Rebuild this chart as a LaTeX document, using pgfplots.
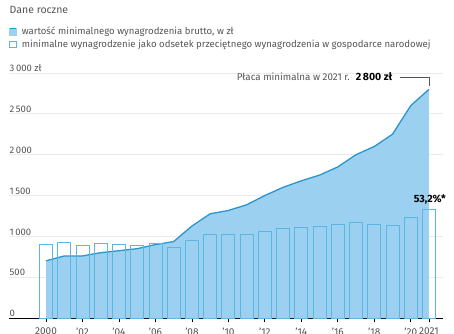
\documentclass[border=0pt]{standalone}
\usepackage{pgfplots}
\pgfplotsset{compat=1.18}
\usepackage{pgfplotstable}
\usepackage{fontspec}
\setmainfont{Fira Sans}
\definecolor{areafill}{HTML}{9CD0F0}
\definecolor{linecol}{HTML}{2A96CC}
\definecolor{barcol}{HTML}{5BB6E3}
\definecolor{txtgray}{HTML}{555555}
\definecolor{gridgray}{HTML}{EBEBEB}
\pgfplotstableread{
year wage
2000 700
2001 760
2002 760
2003 800
2004 824
2005 849
2006 899
2007 936
2008 1126
2009 1276
2010 1317
2011 1386
2012 1500
2013 1600
2014 1680
2015 1750
2016 1850
2017 2000
2018 2100
2019 2250
2020 2600
2021 2800
}\wagetable
\pgfplotstableread{
year pct
2000 36.1
2001 36.9
2002 35.6
2003 36.4
2004 35.9
2005 35.8
2006 36.4
2007 34.8
2008 38.2
2009 41.0
2010 40.8
2011 40.8
2012 42.6
2013 43.8
2014 44.2
2015 44.9
2016 45.7
2017 46.7
2018 45.7
2019 45.4
2020 49.5
2021 53.2
}\pcttable
\begin{document}
\begin{tikzpicture}
\begin{axis}[
  at={(9pt,15pt)}, anchor=south west,
  scale only axis, width=434pt, height=245pt,
  xmin=1997.97, xmax=2021.77, ymin=0, ymax=3000,
  axis x line*=bottom, axis y line*=left,
  x axis line style={-, black, line width=1pt},
  y axis line style={draw=none},
  ytick={0,500,1000,1500,2000,2500,3000},
  yticklabels={0,500,1\,000,1\,500,2\,000,2\,500,3\,000 zł},
  xtick={2000,2002,2004,2006,2008,2010,2012,2014,2016,2018,2020,2021},
  xticklabels={2000,'02,'04,'06,'08,'10,'12,'14,'16,'18,'20,2021},
  ytick style={draw=none},
  xtick style={black, line width=0.8pt},
  tick align=outside, major tick length=4pt,
  ymajorgrids, grid style={gridgray, line width=0.8pt},
  yticklabel style={anchor=south west, inner sep=1pt, xshift=3.5pt, font=\fontsize{9.5}{10}\selectfont, text=txtgray},
  xticklabel style={font=\fontsize{10}{10}\selectfont, text=txtgray, yshift=-2pt},
  /pgf/number format/assume math mode=true,
  legend style={at={(0,1.196)}, anchor=north west, draw=none, fill=none,
    font=\fontsize{9.6}{11}\selectfont, text=txtgray, row sep=0pt,
    legend cell align=left, inner sep=0pt},
  clip=false,
]
\addlegendimage{legend image code/.code={\fill[areafill] (0pt,-3pt) rectangle (6.5pt,3.5pt); \draw[linecol, line width=0.9pt] (0pt,3pt)--(6.5pt,3pt); \path (10pt,0pt);}}
\addlegendentry{wartość minimalnego wynagrodzenia brutto, w zł}
\addlegendimage{legend image code/.code={\draw[barcol, line width=0.8pt] (0pt,-3pt) rectangle (6.5pt,3.5pt); \path (10pt,0pt);}}
\addlegendentry{minimalne wynagrodzenie jako odsetek przeciętnego wynagrodzenia w gospodarce narodowej}
\addplot[fill=areafill, draw=none, forget plot] table[x=year, y=wage] {\wagetable} \closedcycle;
\addplot[linecol, line width=1.3pt, forget plot] table[x=year, y=wage] {\wagetable};
\addplot[ybar, bar width=13pt, draw=barcol, fill=none, line width=0.8pt, forget plot] table[x=year, y expr=\thisrow{pct}*25] {\pcttable};
\node[anchor=east, inner sep=0pt, font=\fontsize{9.8}{10}\selectfont, text=txtgray] at (axis cs:2019.0,2951) {Płaca minimalna w 2021 r. \ \textcolor{black}{\bfseries\fontsize{10.5}{10}\selectfont 2\,800 zł}};
\draw[txtgray, line width=0.5pt] (axis cs:2019.4,2951) -| (axis cs:2021,2841);
\node[anchor=south, inner sep=0pt, font=\bfseries\fontsize{10.5}{10}\selectfont] at (axis cs:2021.05,1390) {53,2\%*};
\node[anchor=west, inner sep=0pt, font=\fontsize{10.5}{12}\selectfont, text=txtgray] at (axis cs:1998.0,3771) {Dane roczne};
\end{axis}
\pgfresetboundingbox
\useasboundingbox (0,0) rectangle (454pt,333pt);
\end{tikzpicture}
\end{document}
